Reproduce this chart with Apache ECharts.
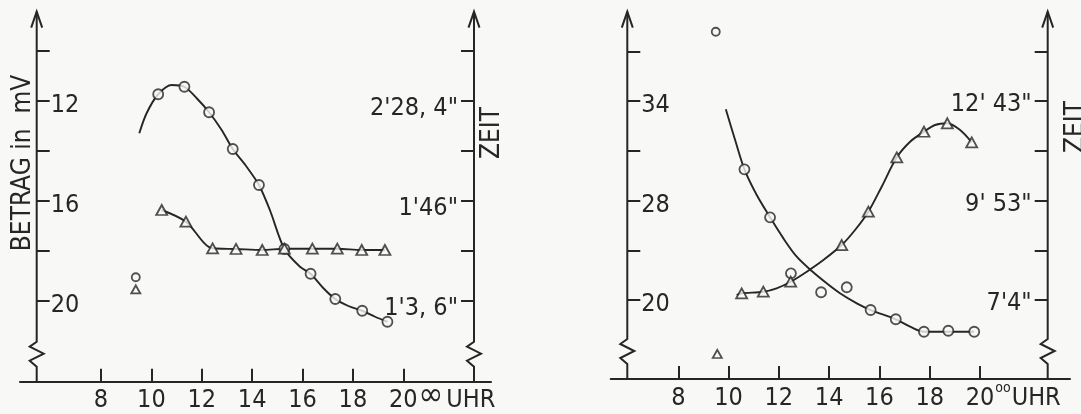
<!DOCTYPE html>
<html>
<head>
<meta charset="utf-8">
<script src="https://cdn.jsdelivr.net/npm/echarts@6/dist/echarts.min.js"></script>
<style>
  html, body { margin: 0; padding: 0; background: #f8f8f6; }
  #chart { width: 1081px; height: 414px; }
</style>
</head>
<body>
<div id="chart"></div>
<script>
// ---- Linke Tafel: Uhrzeit (h), Betrag (mV), Zeit (s) ----
const circHoursL  = [10.27, 11.31, 12.29, 13.23, 14.27, 15.28, 16.32, 17.30, 18.37, 19.37];
const circBetragL = [11.75, 11.45, 12.47, 13.94, 15.38, 17.94, 18.93, 19.94, 20.41, 20.85];
// ausgleichskurve durch die Kreise
const curveHoursL  = [9.52, 9.81, 10.27, 10.81, 11.31, 11.80, 12.29, 12.79, 13.23, 13.78, 14.27, 14.71, 15.28, 15.90, 16.32, 16.83, 17.30, 17.82, 18.37, 18.88, 19.37];
const curveBetragL = [13.31, 12.51, 11.75, 11.38, 11.45, 11.91, 12.47, 13.18, 13.94, 14.65, 15.38, 16.40, 17.94, 18.65, 18.93, 19.51, 19.94, 20.22, 20.41, 20.65, 20.85];
const triHoursL = [10.41, 11.37, 12.43, 13.36, 14.40, 15.28, 16.39, 17.38, 18.35, 19.27];
const triZeitL  = [101.97, 97.01, 85.73, 85.44, 85.01, 85.56, 85.56, 85.56, 85.01, 85.01];
const soloHourL = 9.38, soloBetragL = 19.07, soloZeitL = 68.35;

// ---- Rechte Tafel ----
const circHoursR  = [10.63, 11.65, 12.48, 13.68, 14.70, 15.65, 16.65, 17.77, 18.74, 19.77];
const circBetragR = [29.21, 25.83, 21.89, 20.56, 20.91, 19.31, 18.66, 17.78, 17.85, 17.78];
const curveHoursR  = [9.89, 10.26, 10.63, 11.12, 11.65, 12.18, 12.71, 13.31, 13.90, 14.43, 15.10, 15.65, 16.65, 17.22, 17.77, 18.74, 19.77];
const curveBetragR = [33.43, 31.27, 29.21, 27.40, 25.83, 24.35, 23.06, 22.05, 21.19, 20.49, 19.78, 19.31, 18.66, 18.14, 17.78, 17.78, 17.78];
const triHoursR = [10.52, 11.38, 12.47, 14.50, 15.56, 16.69, 17.77, 18.70, 19.67];
const triZeitR  = [435.8, 438.5, 455.5, 518.0, 574.8, 667.4, 711.0, 725.4, 693.0];
const triCurveHoursR = [10.32, 10.52, 11.38, 11.91, 12.47, 13.11, 13.77, 14.50, 15.03, 15.56, 16.09, 16.69, 17.22, 17.77, 18.21, 18.70, 19.21, 19.67];
const triCurveZeitR  = [432.9, 435.8, 438.5, 444.3, 455.5, 472.6, 492.5, 518.0, 543.6, 574.8, 617.4, 667.4, 694.0, 711.0, 722.5, 725.4, 713.9, 693.0];
const soloHourCircR = 9.49, soloBetragR = 38.89;
const soloHourTriR = 9.55, soloZeitR = 332.4;

// ---- Achsenteilungen ----
const hourTicks = [8, 10, 12, 14, 16, 18, 20];
const hourLabels = ['8', '10', '12', '14', '16', '18', '20'];
const hourUnit = 'UHR';

const betragTicksL  = [10, 12, 14, 16, 18, 20];
const betragLabelsL = ['', '12', '', '16', '', '20'];
const zeitTicksL  = [169.6, 148.4, 127.2, 106, 84.8, 63.6];
const zeitLabelsL = ['', "2'28, 4\"", '', "1'46\"", '', "1'3, 6\""];

const betragTicksR  = [37.5, 34, 30.5, 27, 23.5, 20];
const betragLabelsR = ['', '34', '', '28', '', '20'];
const zeitTicksR  = [847.5, 763, 678, 593, 508.5, 424];
const zeitLabelsR = ['', "12' 43\"", '', "9' 53\"", '', "7'4\""];

// ---- Gestaltung ----
const FONT = '"DejaVu Sans Condensed","Liberation Sans Narrow",sans-serif';
const INK = '#262626';
const PAPER = '#f8f8f6';
const AXIS_W = 2;
const LINE_W = 1.9;
const LABEL_SIZE = 25;
const LABEL_LH = 30;
const LABEL_MARGIN = 4;

// Tafel-Geometrie (Pixel)
const panels = [
  { left: 20, right: 491, top: 11.7, bottom: 381.7, axisL: 36.7, axisR: 474,
    xMin: 4.784, xMax: 23.482, yLMin: 8.448, yLMax: 23.248, yRMin: 29.17, yRMax: 186.05,
    sup: '\u221e', supSize: 33, supRise: 4, supGapL: 1, supGapR: 3, dropL: 3, dropR: 7 },
  { left: 610.7, right: 1070, top: 11.7, bottom: 379, axisL: 627.3, axisR: 1047.7,
    xMin: 5.311, xMax: 23.58, yLMin: 14.456, yLMax: 40.30, yRMin: 289.8, yRMax: 915.5,
    sup: 'oo', supSize: 14, supRise: 10, supGapL: 1, supGapR: 1, dropL: 3, dropR: 2 }
];

const zip = (a, b) => a.map((v, i) => [v, b[i]]);
const labelFor = (ticks, labels) => v => {
  let best = 0;
  ticks.forEach((t, i) => { if (Math.abs(t - v) < Math.abs(ticks[best] - v)) best = i; });
  return labels[best];
};

const mctx = document.createElement('canvas').getContext('2d');
function textW(str, size) { mctx.font = size + 'px ' + FONT; return mctx.measureText(str).width; }

const grids = panels.map(p => ({
  left: p.left, top: p.top, width: p.right - p.left, height: p.bottom - p.top,
  containLabel: false, outerBoundsMode: 'none'
}));

const xAxes = panels.map((p, i) => ({
  type: 'value', gridIndex: i, min: p.xMin, max: p.xMax,
  splitLine: { show: false },
  axisLine: { show: true, onZero: false, lineStyle: { color: INK, width: AXIS_W } },
  axisTick: { show: true, inside: true, length: 13, customValues: hourTicks, lineStyle: { color: INK, width: AXIS_W } },
  axisLabel: {
    show: true, customValues: hourTicks, margin: LABEL_MARGIN,
    color: INK, fontFamily: FONT, fontSize: LABEL_SIZE, lineHeight: LABEL_LH,
    formatter: labelFor(hourTicks, hourLabels)
  }
}));

// labels sit a little below their tick; a short line box hung from the tick does that
function yAxisDef(gridIndex, position, offset, min, max, inverse, ticks, labels, drop) {
  const labelled = ticks.filter((t, i) => labels[i] !== '');
  return {
    type: 'value', gridIndex, position, offset, min, max, inverse,
    splitLine: { show: false },
    axisLine: { show: false },
    axisTick: { show: true, inside: true, length: 13, customValues: ticks, lineStyle: { color: INK, width: AXIS_W } },
    axisLabel: {
      show: true, inside: true, customValues: labelled, margin: position === 'left' ? 14 : 16,
      color: INK, fontFamily: FONT, fontSize: LABEL_SIZE,
      verticalAlign: 'top', lineHeight: 2 * (drop + 1.5),
      formatter: labelFor(ticks, labels)
    }
  };
}

const yAxes = [
  yAxisDef(0, 'left', -(panels[0].axisL - panels[0].left), panels[0].yLMin, panels[0].yLMax, true, betragTicksL, betragLabelsL, panels[0].dropL),
  yAxisDef(0, 'right', -(panels[0].right - panels[0].axisR), panels[0].yRMin, panels[0].yRMax, false, zeitTicksL, zeitLabelsL, panels[0].dropR),
  yAxisDef(1, 'left', -(panels[1].axisL - panels[1].left), panels[1].yLMin, panels[1].yLMax, false, betragTicksR, betragLabelsR, panels[1].dropL),
  yAxisDef(1, 'right', -(panels[1].right - panels[1].axisR), panels[1].yRMin, panels[1].yRMax, false, zeitTicksR, zeitLabelsR, panels[1].dropR)
];

const markStyle = { color: PAPER, borderColor: INK, borderWidth: 1.8 };
const curve = (xi, yi, data, smooth) => ({
  type: 'line', xAxisIndex: xi, yAxisIndex: yi, data, smooth, showSymbol: false, z: 2,
  lineStyle: { color: INK, width: LINE_W }, silent: true
});
const dots = (xi, yi, data, symbol, size) => ({
  type: 'scatter', xAxisIndex: xi, yAxisIndex: yi, data, symbol, symbolSize: size, z: 3,
  itemStyle: markStyle, silent: true
});

const series = [
  curve(0, 0, zip(curveHoursL, curveBetragL), 0.3),
  dots(0, 0, zip(circHoursL, circBetragL), 'circle', 10),
  curve(0, 1, zip(triHoursL, triZeitL), 0.3),
  dots(0, 1, zip(triHoursL, triZeitL), 'triangle', [11, 10]),
  dots(0, 0, [[soloHourL, soloBetragL]], 'circle', 8),
  dots(0, 1, [[soloHourL, soloZeitL]], 'triangle', [9, 8]),

  curve(1, 2, zip(curveHoursR, curveBetragR), 0.3),
  dots(1, 2, zip(circHoursR, circBetragR), 'circle', 10),
  curve(1, 3, zip(triCurveHoursR, triCurveZeitR), 0.3),
  dots(1, 3, zip(triHoursR, triZeitR), 'triangle', [11, 10]),
  dots(1, 2, [[soloHourCircR, soloBetragR]], 'circle', 8),
  dots(1, 3, [[soloHourTriR, soloZeitR]], 'triangle', [9, 8])
];

const chart = echarts.init(document.getElementById('chart'), null, { renderer: 'canvas' });
chart.setOption({
  backgroundColor: PAPER,
  animation: false,
  grid: grids,
  xAxis: xAxes,
  yAxis: yAxes,
  series
});

// vertical axis lines with a break mark near the bottom and an open arrow head at the top
function axisShapes(x, top, bottom) {
  const zig = [[0, -40], [-7, -35], [7, -28], [-7, -21], [0, -15]];
  const pts = [[x, top]].concat(zig.map(([dx, dy]) => [x + dx, bottom + dy]), [[x, bottom]]);
  return [
    { type: 'polyline', shape: { points: pts }, style: { stroke: INK, lineWidth: AXIS_W, fill: null }, z: 10 },
    { type: 'polyline', shape: { points: [[x - 5.5, top + 16], [x, top], [x + 5.5, top + 16]] },
      style: { stroke: INK, lineWidth: AXIS_W, fill: null }, z: 10 }
  ];
}

const graphic = [];
panels.forEach((p, i) => {
  graphic.push(...axisShapes(p.axisL, p.top, p.bottom));
  graphic.push(...axisShapes(p.axisR, p.top, p.bottom));

  // "oo UHR" after the last hour label, which stays centred on its tick
  const lastHour = hourTicks[hourTicks.length - 1];
  const tickX = chart.convertToPixel({ xAxisIndex: i }, lastHour);
  const midY = p.bottom + LABEL_MARGIN + LABEL_LH / 2;
  const supX = tickX + textW(hourLabels[hourLabels.length - 1], LABEL_SIZE) / 2 + p.supGapL;
  const unitX = supX + textW(p.sup, p.supSize) + p.supGapR;
  graphic.push(
    { type: 'text', x: supX, y: midY - p.supRise, z: 10,
      style: { text: p.sup, fill: INK, font: p.supSize + 'px ' + FONT, textAlign: 'left', textVerticalAlign: 'middle' } },
    { type: 'text', x: unitX, y: midY, z: 10,
      style: { text: hourUnit, fill: INK, font: LABEL_SIZE + 'px ' + FONT, textAlign: 'left', textVerticalAlign: 'middle' } }
  );
});
const titleStyle = { fill: INK, font: '26px ' + FONT, textAlign: 'center', textVerticalAlign: 'middle' };
graphic.push(
  { type: 'text', x: 23, y: 163, rotation: Math.PI / 2, style: Object.assign({ text: 'BETRAG in  mV' }, titleStyle), z: 10 },
  { type: 'text', x: 492, y: 133, rotation: Math.PI / 2, style: Object.assign({ text: 'ZEIT' }, titleStyle), z: 10 },
  { type: 'text', x: 1076, y: 127, rotation: Math.PI / 2, style: Object.assign({ text: 'ZEIT' }, titleStyle), z: 10 }
);
chart.setOption({ graphic });
</script>
</body>
</html>
